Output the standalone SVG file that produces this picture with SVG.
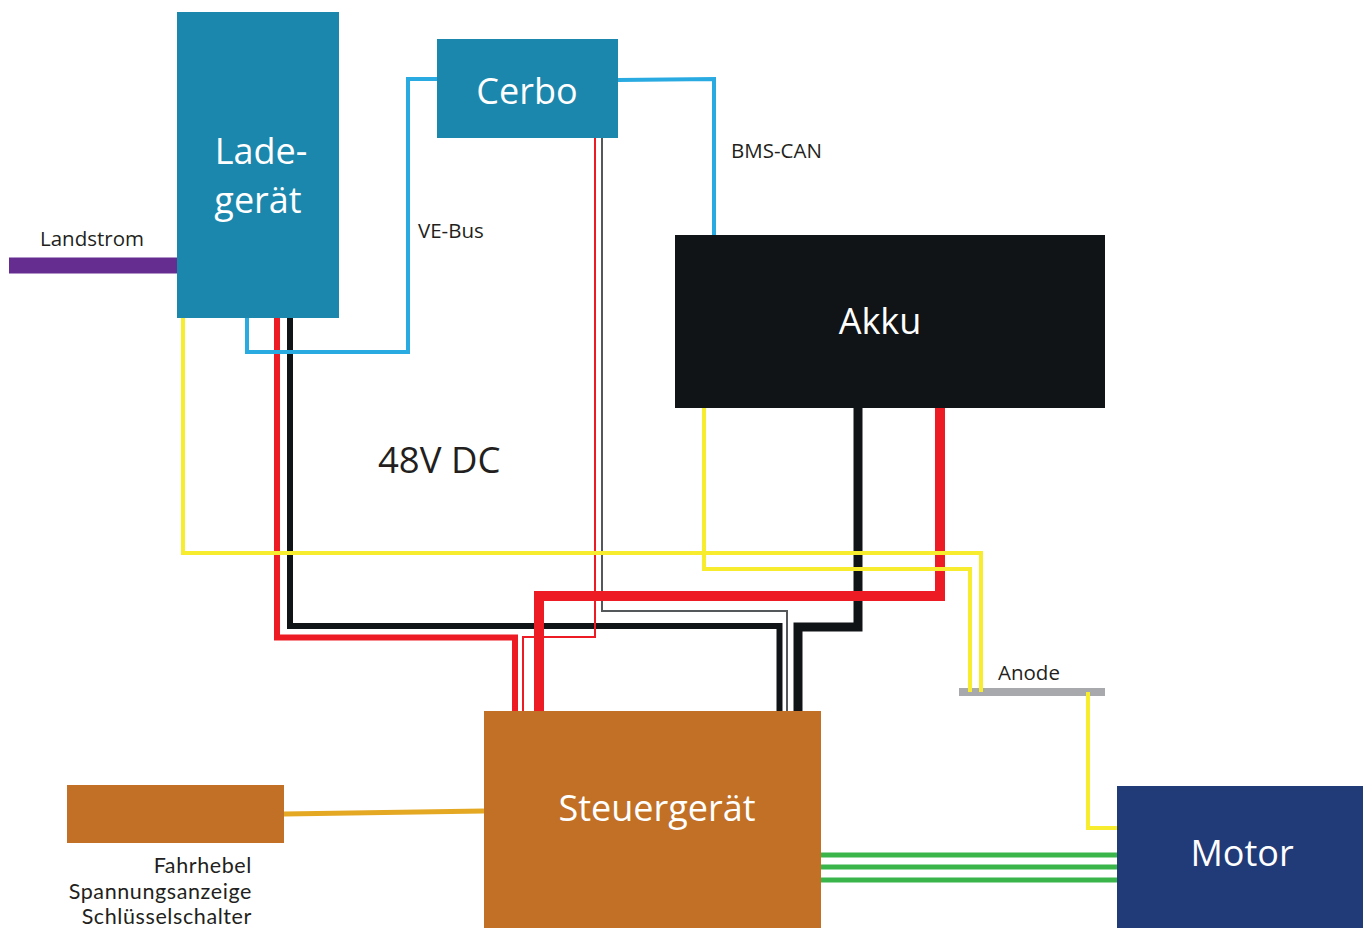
<svg xmlns="http://www.w3.org/2000/svg" width="1368" height="928" viewBox="0 0 1368 928">
<style>
text{font-family:"Open Sans","Noto Sans",sans-serif}
.big{fill:#fff;font-size:36px;text-anchor:middle}
.sm{fill:#231f20;font-size:20.500px}
.ctl{fill:#231f20;font-family:Lato,"Open Sans",sans-serif;font-size:21.500px;letter-spacing:.6px;text-anchor:end}
.w{fill:none;stroke-linejoin:miter}
.blue{stroke:#29abe2;stroke-width:4}
.yel{stroke:#f7ec2e;stroke-width:4}
.red{stroke:#ed1c24}
.blk{stroke:#111416}
.grn{stroke:#39b54a;stroke-width:5}
</style>
<rect width="1368" height="928" fill="#fff"/>
<g id="anode"><rect x="959" y="688" width="146" height="8" fill="#a7a9ac"/><text class="sm" x="998" y="680">Anode</text></g>
<g id="connectors">
<path class="w" d="M9 265.500H177" stroke="#662d91" stroke-width="16"/>
<path class="w blk" stroke-width="6" d="M290 318V626H779.500V711"/>
<path class="w blk" stroke-width="9" d="M858 408V627H798V711"/>
<path class="w" stroke="#55585a" stroke-width="2" d="M602 138V611H787V711"/>
<path class="w red" stroke-width="6" d="M277 318V637.500H515V711"/>
<path class="w red" stroke-width="10" d="M940 408V596H539V711"/>
<path class="w red" stroke-width="2" d="M595 138V637H523V711"/>
<path class="w blue" d="M247 318V352H408V79H437"/>
<path class="w blue" d="M618 80L714 79V235"/>
<path class="w yel" d="M183 318V553H981V692"/>
<path class="w yel" d="M704 408V569H970V692"/>
<path class="w yel" d="M1088 692V828H1118"/>
<path class="w" d="M284 814L484 811" stroke="#e5a823" stroke-width="5"/>
<path class="w grn" d="M821 855H1117M821 867H1117M821 880H1117"/>
</g>
<g id="ladegeraet"><rect x="177" y="12" width="162" height="306" fill="#1b87ad"/><text class="big" x="261" y="164">Lade-</text><text class="big" x="258" y="213">gerät</text></g>
<g id="cerbo"><rect x="437" y="39" width="181" height="99" fill="#1b87ad"/><text class="big" x="527" y="104">Cerbo</text></g>
<g id="akku"><rect x="675" y="235" width="430" height="173" fill="#111416"/><text class="big" x="880" y="334">Akku</text></g>
<g id="steuergeraet"><rect x="484" y="711" width="337" height="217" fill="#c17026"/><text class="big" x="657" y="821">Steuergerät</text></g>
<g id="motor"><rect x="1117" y="786" width="246" height="142" fill="#213a78"/><text class="big" x="1242" y="866">Motor</text></g>
<g id="fahrhebel"><rect x="67" y="785" width="217" height="58" fill="#c17026"/></g>
<g id="labels">
<text class="sm" x="40" y="246">Landstrom</text>
<text class="sm" x="418" y="238">VE-Bus</text>
<text class="sm" x="731" y="158">BMS-CAN</text>
<text x="378" y="473" font-size="36.500" fill="#231f20">48V DC</text>
<text class="ctl" x="252" y="873">Fahrhebel</text>
<text class="ctl" x="252" y="898.500">Spannungsanzeige</text>
<text class="ctl" x="252" y="923.500">Schlüsselschalter</text>
</g>
</svg>
